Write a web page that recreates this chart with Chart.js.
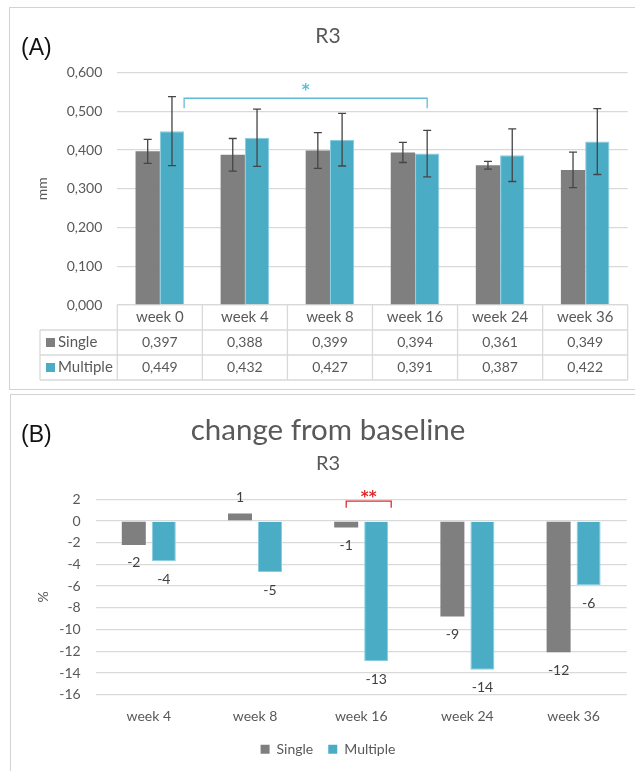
<!DOCTYPE html>
<html>
<head>
<meta charset="utf-8">
<script src="https://cdn.jsdelivr.net/npm/chart.js@4.4.1/dist/chart.umd.min.js"></script>
<style>
  html, body { margin: 0; padding: 0; background: #fff; }
  body { width: 635px; height: 771px; position: relative; overflow: hidden; font-family: Lato, sans-serif; }
  .frame { position: absolute; border: 1.5px solid #d3d3d3; box-sizing: border-box; }
  #frameA { left: 9px; top: 7px; width: 640px; height: 383px; }
  #frameB { left: 10px; top: 394px; width: 640px; height: 400px; }
  .tag { position: absolute; font-family: "Liberation Sans", Arial, sans-serif; font-size: 23px; color: #111; line-height: 1; }
  #tagA { left: 21px; top: 36px; }
  #tagB { left: 21px; top: 423px; }
  .wrap { position: absolute; left: 0; width: 635px; }
  #wrapA { top: 0; height: 390px; }
  #wrapB { top: 390px; height: 381px; }
</style>
</head>
<body>
<div class="frame" id="frameA"></div>
<div class="frame" id="frameB"></div>
<div class="wrap" id="wrapA"><canvas id="chartA"></canvas></div>
<div class="wrap" id="wrapB"><canvas id="chartB"></canvas></div>
<div class="tag" id="tagA">(A)</div>
<div class="tag" id="tagB">(B)</div>
<script>
// ---- data: thickness (mm) per visit, with standard deviations ----
const weeksA = ['week 0', 'week 4', 'week 8', 'week 16', 'week 24', 'week 36'];
const singleMm = [0.397, 0.388, 0.399, 0.394, 0.361, 0.349];
const multipleMm = [0.449, 0.432, 0.427, 0.391, 0.387, 0.422];
const singleSd = [0.031, 0.042, 0.046, 0.026, 0.010, 0.046];
const multipleSd = [0.089, 0.074, 0.068, 0.060, 0.068, 0.085];
const mmTicks = [0, 0.1, 0.2, 0.3, 0.4, 0.5, 0.6];

// ---- data: change from baseline (%) ----
const weeksB = ['week 4', 'week 8', 'week 16', 'week 24', 'week 36'];
const singlePct = [-2.2, 0.7, -0.6, -8.8, -12.1];
const multiplePct = [-3.7, -4.7, -12.9, -13.7, -5.9];
const pctTicks = [-16, -14, -12, -10, -8, -6, -4, -2, 0, 2];

const seriesNames = ['Single', 'Multiple'];

const FONT = 'Lato, "Noto Sans", sans-serif';
const STAR_FONT = '"DejaVu Sans", sans-serif';
const GRAY = '#7f7f7f';
const CYAN = '#4bacc6';
const CYAN_EDGE = '#86cde0';
const TEXT = '#595959';
const GRID = '#d9d9d9';

const commaFmt = v => v.toFixed(3).replace('.', ',');

// error bars (± SD) drawn on top of each bar
const errorBars = {
  id: 'errorBars',
  afterDatasetsDraw(chart) {
    const { ctx } = chart;
    const y = chart.scales.y;
    ctx.save();
    ctx.strokeStyle = '#454545';
    ctx.lineWidth = 1.3;
    chart.data.datasets.forEach((ds, i) => {
      chart.getDatasetMeta(i).data.forEach((bar, j) => {
        const v = ds.data[j], e = ds.sd[j];
        const yt = y.getPixelForValue(v + e), yb = y.getPixelForValue(v - e);
        const x = bar.x;
        ctx.beginPath();
        ctx.moveTo(x, yt); ctx.lineTo(x, yb);
        ctx.moveTo(x - 4, yt); ctx.lineTo(x + 4, yt);
        ctx.moveTo(x - 4, yb); ctx.lineTo(x + 4, yb);
        ctx.stroke();
      });
    });
    ctx.restore();
  }
};

// data table under the chart area (header row + one row per series)
const dataTable = {
  id: 'dataTable',
  afterDraw(chart) {
    const { ctx, chartArea } = chart;
    const x = chart.scales.x;
    const n = chart.data.labels.length;
    const colW = (chartArea.right - chartArea.left) / n;
    const rowH = 25;
    const top = chartArea.bottom;
    const tableLeft = 40;
    ctx.save();
    ctx.strokeStyle = GRID;
    ctx.lineWidth = 1.3;
    ctx.beginPath();
    for (let r = 1; r <= 3; r++) {
      const yy = top + r * rowH;
      ctx.moveTo(tableLeft, yy); ctx.lineTo(chartArea.right, yy);
    }
    for (let c = 0; c <= n; c++) {
      const xx = chartArea.left + c * colW;
      ctx.moveTo(xx, top); ctx.lineTo(xx, top + 3 * rowH);
    }
    ctx.moveTo(tableLeft, top + rowH); ctx.lineTo(tableLeft, top + 3 * rowH);
    ctx.stroke();

    ctx.fillStyle = TEXT;
    ctx.textAlign = 'center';
    ctx.textBaseline = 'middle';
    chart.data.labels.forEach((lab, i) => {
      const cx = x.getPixelForValue(i);
      ctx.font = '15px ' + FONT;
      ctx.fillText(lab, cx, top + rowH * 0.5);
      ctx.font = '14px ' + FONT;
      chart.data.datasets.forEach((ds, k) => {
        ctx.fillText(commaFmt(ds.data[i]), cx, top + rowH * (1.5 + k));
      });
    });
    ctx.textAlign = 'left';
    ctx.font = '15px ' + FONT;
    chart.data.datasets.forEach((ds, k) => {
      const cy = top + rowH * (1.5 + k);
      ctx.fillStyle = ds.backgroundColor;
      ctx.fillRect(46, cy - 4.5, 9, 9);
      ctx.fillStyle = TEXT;
      ctx.fillText(ds.label, 58, cy);
    });
    ctx.restore();
  }
};

// significance bracket between two bars
function bracket(id, color, label, from, to, yLine, yLeg, starRise) {
  return {
    id,
    afterDatasetsDraw(chart) {
      const { ctx } = chart;
      const y = chart.scales.y;
      const x1 = from(chart), x2 = to(chart);
      const yl = y.getPixelForValue(yLine), yd = y.getPixelForValue(yLeg);
      ctx.save();
      ctx.strokeStyle = color;
      ctx.lineWidth = 1.3;
      ctx.beginPath();
      ctx.moveTo(x1, yd); ctx.lineTo(x1, yl); ctx.lineTo(x2, yl); ctx.lineTo(x2, yd);
      ctx.stroke();
      ctx.fillStyle = color;
      ctx.font = 'bold 15px ' + STAR_FONT;
      ctx.textAlign = 'center';
      ctx.textBaseline = 'alphabetic';
      ctx.fillText(label, (x1 + x2) / 2, yl - starRise);
      ctx.restore();
    }
  };
}

const barOf = (chart, ds, idx) => chart.getDatasetMeta(ds).data[idx];

// value labels at the end of each bar (rounded to whole percent)
const endLabels = {
  id: 'endLabels',
  afterDatasetsDraw(chart) {
    const { ctx } = chart;
    ctx.save();
    ctx.fillStyle = '#404040';
    ctx.font = '14px ' + FONT;
    ctx.textAlign = 'center';
    ctx.textBaseline = 'middle';
    chart.data.datasets.forEach((ds, i) => {
      chart.getDatasetMeta(i).data.forEach((bar, j) => {
        const v = ds.data[j];
        const yy = v < 0 ? bar.y + 18 : bar.y - 16;
        ctx.fillText(String(Math.round(v)), bar.x, yy);
      });
    });
    ctx.restore();
  }
};

// ---- panel A ----
new Chart(document.getElementById('chartA'), {
  type: 'bar',
  data: {
    labels: weeksA,
    datasets: [
      { label: seriesNames[0], data: singleMm, sd: singleSd, backgroundColor: GRAY,
        categoryPercentage: 0.571, barPercentage: 1 },
      { label: seriesNames[1], data: multipleMm, sd: multipleSd, backgroundColor: CYAN,
        borderColor: CYAN_EDGE, borderWidth: 1, categoryPercentage: 0.571, barPercentage: 1 }
    ]
  },
  options: {
    responsive: true, maintainAspectRatio: false, animation: false,
    layout: { padding: { left: 28.3, right: 7.3, top: 0, bottom: 0 } },
    plugins: {
      legend: { display: false },
      tooltip: { enabled: false },
      title: { display: true, text: 'R3', color: TEXT, font: { family: FONT, size: 21, weight: 'normal' },
               padding: { top: 24, bottom: 23.5 } }
    },
    scales: {
      x: {
        grid: { display: false, drawTicks: false },
        border: { display: true, color: GRID, width: 1.3 },
        ticks: { display: false },
        afterFit(s) { s.height = 85; }
      },
      y: {
        min: 0, max: 0.6,
        afterBuildTicks(s) { s.ticks = mmTicks.map(v => ({ value: v })); },
        afterFit(s) { s.width = 89; },
        grid: { color: GRID, lineWidth: 1.3, drawTicks: false },
        border: { display: false },
        ticks: { padding: 15, color: TEXT, font: { family: FONT, size: 14 }, callback: v => commaFmt(v) },
        title: { display: true, text: 'mm', color: TEXT, font: { family: FONT, size: 14 }, padding: { top: 6 } }
      }
    }
  },
  plugins: [
    errorBars, dataTable,
    bracket('sigA', '#5fbcd6', '*',
      c => { const b = barOf(c, 1, 0); return b.x + b.width / 2; },
      c => barOf(c, 1, 3).x, 0.534, 0.508, 3)
  ]
});

// ---- panel B ----
new Chart(document.getElementById('chartB'), {
  type: 'bar',
  data: {
    labels: weeksB,
    datasets: [
      { label: seriesNames[0], data: singlePct, backgroundColor: GRAY,
        categoryPercentage: 0.565, barPercentage: 0.8 },
      { label: seriesNames[1], data: multiplePct, backgroundColor: CYAN,
        borderColor: CYAN_EDGE, borderWidth: 1, categoryPercentage: 0.565, barPercentage: 0.8 }
    ]
  },
  options: {
    responsive: true, maintainAspectRatio: false, animation: false,
    layout: { padding: { left: 29.3, right: 8.3, top: 0, bottom: 4.7 } },
    plugins: {
      tooltip: { enabled: false },
      title: { display: true, text: 'change from baseline', color: TEXT,
               font: { family: FONT, size: 29.5, weight: 'normal' }, padding: { top: 22.3, bottom: 0 } },
      subtitle: { display: true, text: 'R3', color: TEXT,
                  font: { family: FONT, size: 20, weight: 'normal' }, padding: { top: 4.3, bottom: 23.3 } },
      legend: {
        position: 'bottom',
        labels: {
          boxWidth: 9, boxHeight: 9, padding: 15, color: TEXT, font: { family: FONT, size: 14 },
          generateLabels(chart) {
            return Chart.defaults.plugins.legend.labels.generateLabels(chart).map(l => ({ ...l, lineWidth: 0 }));
          }
        }
      }
    },
    scales: {
      x: {
        grid: { display: false, drawTicks: false },
        border: { display: false },
        ticks: { padding: 13, color: TEXT, font: { family: FONT, size: 14 } },
        afterFit(s) { s.height = 32.6; }
      },
      y: {
        min: -16, max: 2,
        afterBuildTicks(s) { s.ticks = pctTicks.map(v => ({ value: v })); },
        afterFit(s) { s.width = 66.4; },
        grid: { color: GRID, lineWidth: 1.3, drawTicks: false },
        border: { display: false },
        ticks: { padding: 15, color: TEXT, font: { family: FONT, size: 14 } },
        title: { display: true, text: '%', color: TEXT, font: { family: FONT, size: 14 }, padding: { top: 5.3 } }
      }
    }
  },
  plugins: [
    endLabels,
    bracket('sigB', '#e02b2b', '**',
      c => barOf(c, 0, 2).x,
      c => { const b = barOf(c, 1, 2); return b.x + b.width / 2 + 3; }, 1.84, 1.23, -1)
  ]
});
</script>
</body>
</html>
